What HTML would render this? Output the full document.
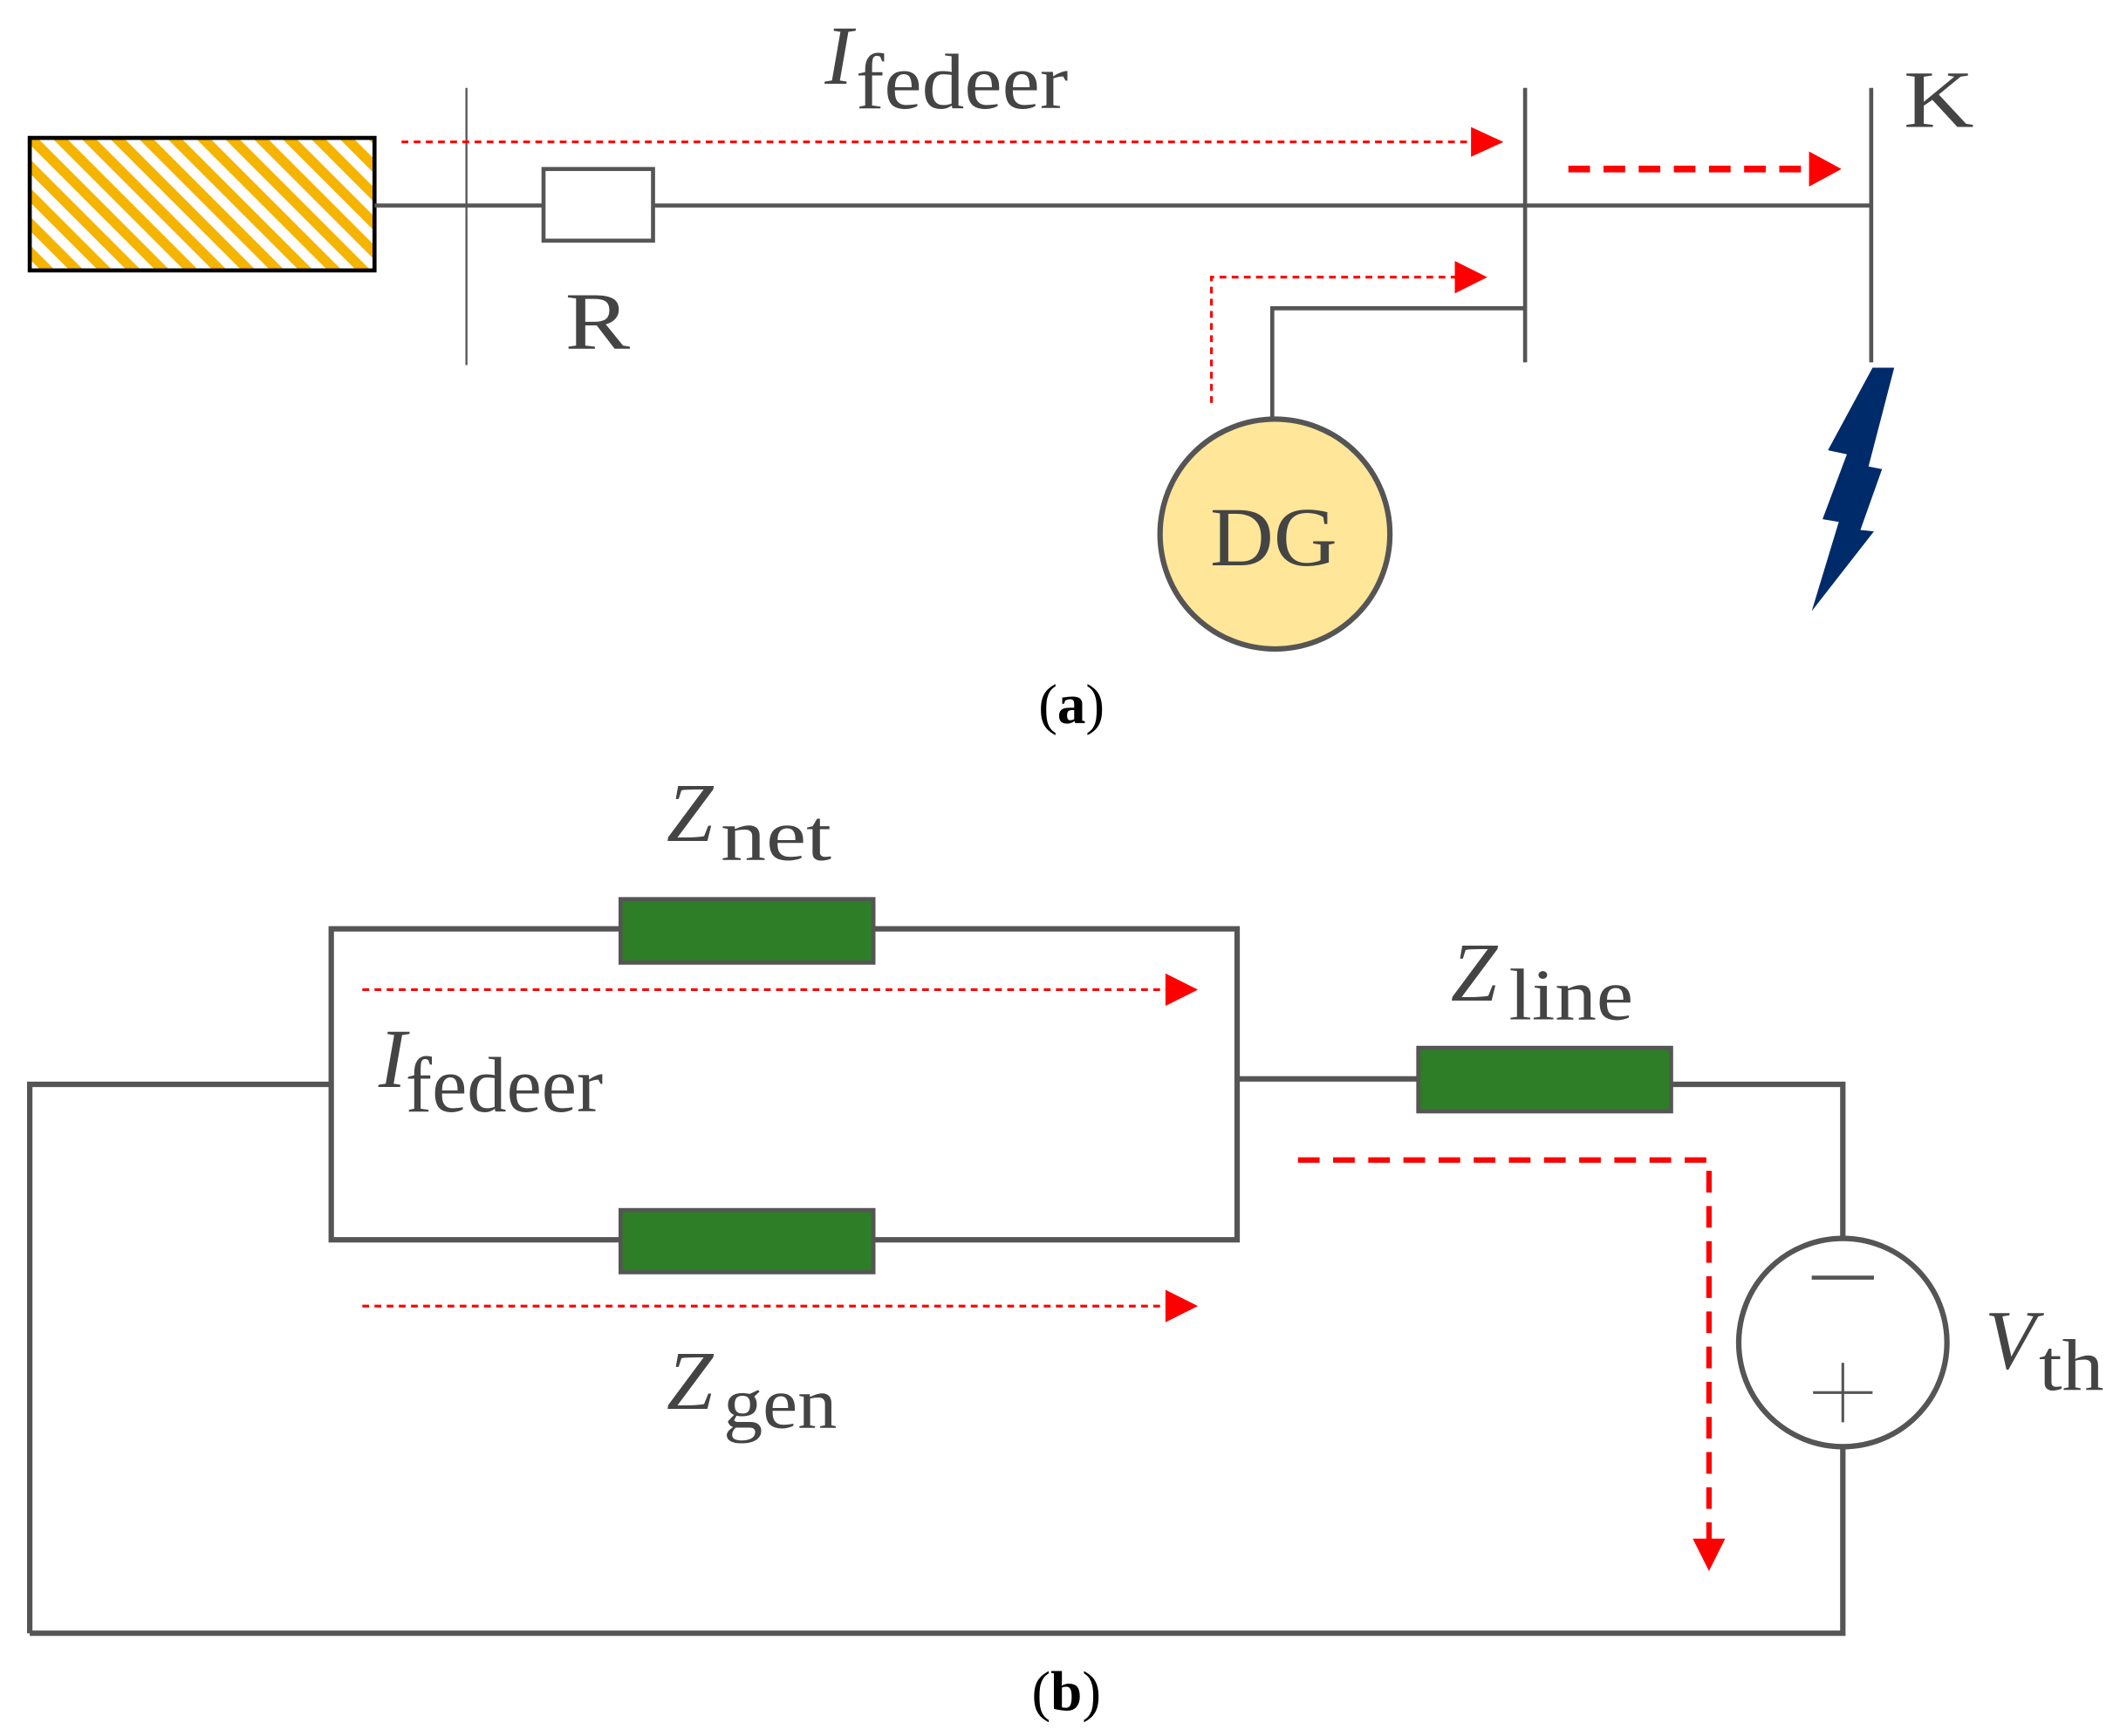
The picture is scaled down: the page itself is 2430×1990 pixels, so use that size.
<!DOCTYPE html>
<html><head><style>html,body{margin:0;padding:0;background:#fff;}svg{display:block}</style></head>
<body>
<svg width="2430" height="1990" viewBox="0 0 1568 1284" preserveAspectRatio="none" xmlns="http://www.w3.org/2000/svg">
<defs>
<pattern id="h" patternUnits="userSpaceOnUse" width="15" height="15" patternTransform="rotate(-45)">
<rect width="15" height="15" fill="#fff"/><rect width="7.5" height="15" fill="#f5b400"/>
</pattern>
</defs>
<g font-family="Liberation Serif, serif" fill="#444">
<!-- part a -->
<rect x="22" y="102" width="255" height="98" fill="url(#h)" stroke="#000" stroke-width="3"/>
<line x1="277" y1="152" x2="1384" y2="152" stroke="#555" stroke-width="3"/>
<line x1="345" y1="65" x2="345" y2="270" stroke="#555" stroke-width="1.5"/>
<rect x="402" y="125" width="81" height="53" fill="#fff" stroke="#555" stroke-width="3"/>
<text x="418" y="258" font-size="60" textLength="48" lengthAdjust="spacingAndGlyphs">R</text>
<line x1="1128" y1="65" x2="1128" y2="268" stroke="#555" stroke-width="3"/>
<line x1="1384" y1="65" x2="1384" y2="268" stroke="#555" stroke-width="3"/>
<text x="1408" y="94" font-size="60" textLength="52" lengthAdjust="spacingAndGlyphs">K</text>
<polyline points="1128,228 941,228 941,310" fill="none" stroke="#555" stroke-width="3"/>
<circle cx="943" cy="395" r="85" fill="#ffe699" stroke="#555" stroke-width="4"/>
<text x="895" y="418" font-size="62" textLength="94" lengthAdjust="spacingAndGlyphs">DG</text>
<line x1="297" y1="105" x2="1090" y2="105" stroke="#f00" stroke-width="2" stroke-dasharray="5,4"/>
<polygon points="1088,94 1112,105 1088,116" fill="#f00"/>
<polyline points="896,298 896,205 1078,205" fill="none" stroke="#f00" stroke-width="2" stroke-dasharray="5,4"/>
<polygon points="1076,193 1100,205 1076,217" fill="#f00"/>
<line x1="1160" y1="125" x2="1340" y2="125" stroke="#f00" stroke-width="5" stroke-dasharray="16,10"/>
<polygon points="1338,112 1362,125 1338,138" fill="#f00"/>
<polygon points="1385,272 1401,272 1382,345 1392,347 1376,392 1386,393 1340,452 1360,386 1348,384 1366,336 1352,333" fill="#002b6b"/>
<text x="610" y="62" font-size="62" font-style="italic">I</text>
<text x="633" y="80" font-size="58" textLength="157" lengthAdjust="spacingAndGlyphs">fedeer</text>
<text x="768" y="535" font-size="42" fill="#000">(<tspan font-weight="bold">a</tspan>)</text>
<!-- part b -->
<text x="493" y="622" font-size="62" font-style="italic">Z</text>
<text x="533" y="636" font-size="54" textLength="82" lengthAdjust="spacingAndGlyphs">net</text>
<polyline points="22,1208 22,802 245,802" fill="none" stroke="#555" stroke-width="4"/>
<rect x="245" y="687" width="670" height="230" fill="none" stroke="#555" stroke-width="4"/>
<rect x="459" y="665" width="187" height="47" fill="#2e7d27" stroke="#555" stroke-width="3"/>
<rect x="459" y="895" width="187" height="46" fill="#2e7d27" stroke="#555" stroke-width="3"/>
<line x1="915" y1="798" x2="1049" y2="798" stroke="#555" stroke-width="4"/>
<polyline points="1236,802 1363,802 1363,916" fill="none" stroke="#555" stroke-width="4"/>
<rect x="1049" y="775" width="187" height="47" fill="#2e7d27" stroke="#555" stroke-width="3"/>
<polyline points="1363,1070 1363,1208 22,1208" fill="none" stroke="#555" stroke-width="4"/>
<circle cx="1363" cy="993" r="77" fill="#fff" stroke="#555" stroke-width="4"/>
<line x1="1340" y1="945" x2="1386" y2="945" stroke="#555" stroke-width="3"/>
<line x1="1341" y1="1030" x2="1385" y2="1030" stroke="#555" stroke-width="2"/>
<line x1="1363" y1="1008" x2="1363" y2="1052" stroke="#555" stroke-width="2"/>
<line x1="268" y1="732" x2="864" y2="732" stroke="#f00" stroke-width="2" stroke-dasharray="5,4"/>
<polygon points="862,720 886,732 862,744" fill="#f00"/>
<line x1="268" y1="966" x2="864" y2="966" stroke="#f00" stroke-width="2" stroke-dasharray="5,4"/>
<polygon points="862,954 886,966 862,978" fill="#f00"/>
<polyline points="960,858 1264,858 1264,1140" fill="none" stroke="#f00" stroke-width="4" stroke-dasharray="16,10"/>
<polygon points="1252,1138 1264,1162 1276,1138" fill="#f00"/>
<text x="280" y="804" font-size="62" font-style="italic">I</text>
<text x="300" y="822" font-size="58" textLength="146" lengthAdjust="spacingAndGlyphs">fedeer</text>
<text x="493" y="1042" font-size="62" font-style="italic">Z</text>
<text x="535" y="1056" font-size="54" textLength="84" lengthAdjust="spacingAndGlyphs">gen</text>
<text x="1073" y="740" font-size="62" font-style="italic">Z</text>
<text x="1116" y="754" font-size="54" textLength="92" lengthAdjust="spacingAndGlyphs">line</text>
<text x="1468" y="1012" font-size="62" font-style="italic">V</text>
<text x="1508" y="1028" font-size="54" textLength="48" lengthAdjust="spacingAndGlyphs">th</text>
<text x="763" y="1265" font-size="42" fill="#000">(<tspan font-weight="bold">b</tspan>)</text>
</g>
</svg>
</body></html>
